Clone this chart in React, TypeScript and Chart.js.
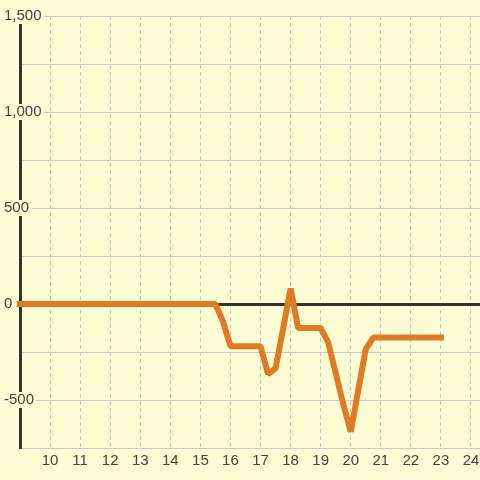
import React, { useEffect, useRef } from "react";
import { Chart, registerables } from "chart.js";

Chart.register(...registerables);

// hours of day
const hours: number[] = [9, 15.5, 15.75, 16, 17, 17.25, 17.5, 17.75, 18, 18.25, 19, 19.25, 19.5, 19.75, 20, 20.25, 20.5, 20.75, 23];
// series values
const values: number[] = [0, 0, -90, -220, -220, -365, -335, -130, 80, -125, -125, -200, -360, -520, -665, -450, -235, -175, -175];

const xMin = 9;
const xMax = 24.3;
const yMin = -750;
const yMax = 1500;
const yStep = 250;
const yLabelStep = 500;

const BG = "#fcfcd5";
const FONT = "'Liberation Sans', Arial, sans-serif";

export default function App() {
  const ref = useRef<HTMLCanvasElement | null>(null);

  useEffect(() => {
    const canvas = ref.current;
    if (!canvas) return;
    const chart = new Chart(canvas, {
      type: "line",
      data: {
        datasets: [
          {
            data: hours.map((h, i) => ({ x: h, y: values[i] })),
            borderColor: "#e07b24",
            borderWidth: 6,
            pointRadius: 0,
            tension: 0,
            borderJoinStyle: "bevel",
            borderCapStyle: "square",
            clip: 4,
            fill: false,
          } as any,
        ],
      },
      options: {
        animation: false,
        responsive: false,
        events: [],
        layout: { padding: { left: 4, top: 16, right: 0, bottom: 0 } },
        plugins: { legend: { display: false }, tooltip: { enabled: false } },
        scales: {
          x: {
            type: "linear",
            position: "bottom",
            min: xMin,
            max: xMax,
            ticks: {
              stepSize: 1,
              includeBounds: false,
              padding: 4,
              color: "#444",
              font: { family: FONT, size: 15 },
              maxRotation: 0,
              autoSkip: false,
              callback: (v: any) => (Number(v) === xMin ? "" : String(v)),
            },
            grid: { color: "#c8c8c8", lineWidth: 1, drawTicks: false },
            border: { display: false, dash: [4, 3] },
            afterFit: (s: any) => {
              s.height = 32;
              s.paddingLeft = 0;
              s.paddingRight = 0;
            },
          },
          y: {
            type: "linear",
            position: "left",
            min: yMin,
            max: yMax,
            ticks: {
              stepSize: yStep,
              includeBounds: false,
              mirror: true,
              padding: -16,
              crossAlign: "near",
              color: "#444",
              font: { family: FONT, size: 15, lineHeight: "16px" },
              showLabelBackdrop: true,
              backdropColor: BG,
              backdropPadding: { top: 0, bottom: 0, left: 2, right: 2 },
              callback: (v: any) => {
                const n = Number(v);
                if (n % yLabelStep !== 0) return "";
                return n.toLocaleString("en-US");
              },
            },
            grid: {
              drawTicks: false,
              color: (c: any) => (c.tick && c.tick.value === 0 ? "#333" : "#c8c8c8"),
              lineWidth: (c: any) => (c.tick && c.tick.value === 0 ? 3 : 1),
            },
            border: { display: true, color: "#333", width: 3 },
            afterFit: (s: any) => {
              s.width = 16;
              s.paddingTop = 0;
              s.paddingBottom = 0;
            },
          },
        },
      } as any,
    });
    return () => chart.destroy();
  }, []);

  return (
    <div style={{ position: "absolute", left: 0, top: 0, width: 480, height: 480, background: BG }}>
      <canvas ref={ref} width={480} height={480} style={{ display: "block", width: 480, height: 480 }} />
    </div>
  );
}
